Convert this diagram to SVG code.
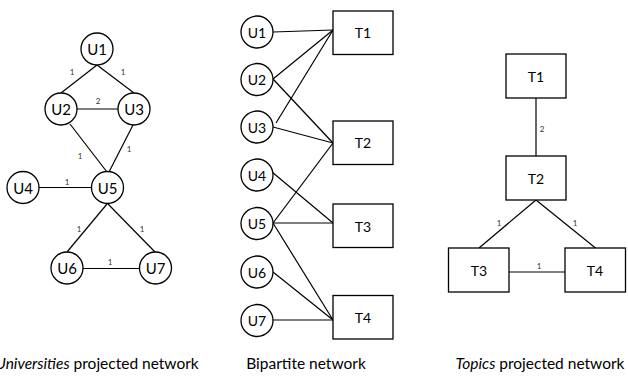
<svg xmlns="http://www.w3.org/2000/svg" width="628" height="377" viewBox="0 0 628 377">
<style>
.n{fill:#fff;stroke:#000;stroke-width:1.3}
.e line{stroke:#000;stroke-width:1.2}
.t{font-family:"Lato","Liberation Sans",sans-serif;font-size:14px;text-anchor:middle;dominant-baseline:central;fill:#000}
.l{font-size:15px}
.w{font-family:"Lato","Liberation Sans",sans-serif;font-size:8px;fill:#333;text-anchor:middle}
.c{font-family:"Lato","Liberation Sans",sans-serif;font-size:15.5px;text-anchor:middle;fill:#000}
</style>
<rect width="628" height="377" fill="#fff"/>
<g id="connectors" class="e">
<line x1="97" y1="65" x2="61" y2="93"/>
<line x1="97" y1="65" x2="134" y2="93"/>
<line x1="77" y1="109" x2="118" y2="109"/>
<line x1="70" y1="124" x2="107" y2="172"/>
<line x1="133" y1="125" x2="109" y2="172"/>
<line x1="39" y1="187.5" x2="92" y2="187.5"/>
<line x1="107" y1="204" x2="67" y2="252"/>
<line x1="108" y1="204" x2="155" y2="252"/>
<line x1="83" y1="268.5" x2="139.5" y2="268.5"/>
<line x1="273" y1="32" x2="333" y2="30"/>
<line x1="273" y1="79" x2="333" y2="30"/>
<line x1="276" y1="123" x2="333" y2="30"/>
<line x1="273" y1="79" x2="333" y2="143"/>
<line x1="273" y1="127" x2="333" y2="143"/>
<line x1="273" y1="223" x2="333" y2="143"/>
<line x1="272" y1="172" x2="333" y2="223"/>
<line x1="273" y1="223" x2="333" y2="223"/>
<line x1="273" y1="223" x2="333" y2="320"/>
<line x1="273" y1="272" x2="333" y2="320"/>
<line x1="273" y1="320" x2="333" y2="320"/>
<line x1="536" y1="98" x2="536" y2="156"/>
<line x1="536" y1="200" x2="479" y2="248"/>
<line x1="536" y1="200" x2="595.5" y2="248"/>
<line x1="509" y1="272" x2="565" y2="272"/>
</g>
<g id="weights">
<text class="w" x="72" y="75">1</text>
<text class="w" x="123" y="75">1</text>
<text class="w" x="98" y="104">2</text>
<text class="w" x="80" y="159">1</text>
<text class="w" x="129" y="152">1</text>
<text class="w" x="67" y="185">1</text>
<text class="w" x="79" y="232">1</text>
<text class="w" x="142" y="232">1</text>
<text class="w" x="110" y="265">1</text>
<text class="w" x="542" y="132">2</text>
<text class="w" x="499" y="226">1</text>
<text class="w" x="575" y="226">1</text>
<text class="w" x="539" y="269">1</text>
</g>
<g id="pU1"><circle class="n" cx="97" cy="49" r="16"/><text class="t l" x="97" y="49">U1</text></g>
<g id="pU2"><circle class="n" cx="61" cy="109" r="16"/><text class="t l" x="61" y="109">U2</text></g>
<g id="pU3"><circle class="n" cx="134" cy="109" r="16"/><text class="t l" x="134" y="109">U3</text></g>
<g id="pU4"><circle class="n" cx="23" cy="187.5" r="16"/><text class="t l" x="23" y="187.5">U4</text></g>
<g id="pU5"><circle class="n" cx="107.5" cy="187.5" r="16"/><text class="t l" x="107.5" y="187.5">U5</text></g>
<g id="pU6"><circle class="n" cx="67" cy="268" r="16"/><text class="t l" x="67" y="268">U6</text></g>
<g id="pU7"><circle class="n" cx="155.5" cy="268" r="16"/><text class="t l" x="155.5" y="268">U7</text></g>
<g id="bU1"><circle class="n" cx="257" cy="32" r="16"/><text class="t" x="257" y="32">U1</text></g>
<g id="bU2"><circle class="n" cx="257" cy="79.5" r="16"/><text class="t" x="257" y="79.5">U2</text></g>
<g id="bU3"><circle class="n" cx="257" cy="127" r="16"/><text class="t" x="257" y="127">U3</text></g>
<g id="bU4"><circle class="n" cx="257" cy="175" r="16"/><text class="t" x="257" y="175">U4</text></g>
<g id="bU5"><circle class="n" cx="257" cy="223.5" r="16"/><text class="t" x="257" y="223.5">U5</text></g>
<g id="bU6"><circle class="n" cx="257" cy="272" r="16"/><text class="t" x="257" y="272">U6</text></g>
<g id="bU7"><circle class="n" cx="257" cy="320.5" r="16"/><text class="t" x="257" y="320.5">U7</text></g>
<g id="bT1"><rect class="n" x="333" y="11" width="60" height="43.5"/><text class="t" x="363" y="32.5">T1</text></g>
<g id="bT2"><rect class="n" x="333" y="121" width="60" height="43.5"/><text class="t" x="363" y="142.5">T2</text></g>
<g id="bT3"><rect class="n" x="333" y="204" width="60" height="43.5"/><text class="t" x="363" y="226">T3</text></g>
<g id="bT4"><rect class="n" x="333" y="295.5" width="60" height="43.5"/><text class="t" x="363" y="317">T4</text></g>
<g id="tT1"><rect class="n" x="506" y="54" width="60" height="44"/><text class="t" x="536" y="76">T1</text></g>
<g id="tT2"><rect class="n" x="506" y="156" width="60" height="44"/><text class="t" x="536" y="178">T2</text></g>
<g id="tT3"><rect class="n" x="448.5" y="248" width="60.5" height="44"/><text class="t" x="479" y="270">T3</text></g>
<g id="tT4"><rect class="n" x="565" y="248" width="60.5" height="44"/><text class="t" x="595" y="270">T4</text></g>
<g id="captions">
<text class="c" x="97" y="369"><tspan font-style="italic">Universities</tspan> projected network</text>
<text class="c" x="306" y="369">Bipartite network</text>
<text class="c" x="540" y="369"><tspan font-style="italic">Topics</tspan> projected network</text>
</g>
</svg>
